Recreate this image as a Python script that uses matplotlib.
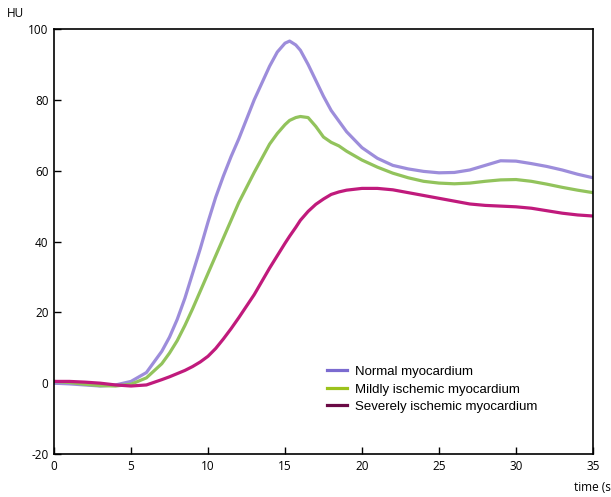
import numpy as np
import matplotlib.pyplot as plt
from matplotlib.lines import Line2D

plt.rcParams['axes.unicode_minus'] = False

# time axis (s) and mean enhancement curves (HU)
t = [0, 1, 2, 3, 4, 5, 6, 7, 7.5, 8, 8.5, 9, 9.5, 10, 10.5, 11, 11.5, 12, 13, 14, 14.5, 15, 15.3, 15.7, 16, 16.5,
     17, 17.5, 18, 18.5, 19, 20, 21, 22, 23, 24, 25, 26, 27, 28, 29, 30, 31, 32, 33, 34, 35]
normal = [0, -0.2, -0.5, -0.8, -0.5, 0.5, 3, 9, 13, 18, 24, 31, 38, 45.5, 52.5, 58.5, 64, 69, 80, 89.5, 93.5, 96,
          96.6, 95.5, 94, 90, 85.5, 81, 77, 74, 71, 66.5, 63.5, 61.5, 60.5, 59.8, 59.4, 59.5, 60.2, 61.5, 62.8,
          62.7, 62, 61.2, 60.2, 59, 58]
mild = [0.5, 0.2, -0.3, -0.7, -0.8, -0.3, 1.5, 5.5, 8.5, 12, 16.3, 21, 26, 31, 36, 41, 46, 51, 59.5, 67.5, 70.5,
        73, 74.2, 75, 75.3, 75, 72.5, 69.5, 68, 67, 65.5, 63, 61, 59.3, 58, 57, 56.5, 56.3, 56.5, 57, 57.4, 57.5,
        57, 56.2, 55.3, 54.5, 53.8]
severe = [0.5, 0.5, 0.3, 0, -0.5, -0.8, -0.5, 1.0, 1.8, 2.7, 3.6, 4.7, 6, 7.6, 9.8, 12.5, 15.4, 18.5, 25, 32.5,
          36, 39.5, 41.5, 44, 46, 48.5, 50.5, 52, 53.3, 54, 54.5, 55, 55, 54.6, 53.8, 53, 52.2, 51.4, 50.6, 50.2,
          50, 49.8, 49.4, 48.7, 48, 47.5, 47.2]

labels = ['Normal myocardium', 'Mildly ischemic myocardium', 'Severely ischemic myocardium']
colors = ['#9d8ddb', '#92c35c', '#c01a7c']
handle_colors = ['#7b6bd0', '#9cc21c', '#6a0a45']

fig = plt.figure(figsize=(6.11, 4.97), dpi=100)
ax = fig.add_axes([0.0884, 0.0865, 0.8821, 0.8551])

for y, c in zip([normal, mild, severe], colors):
    ax.plot(t, y, color=c, lw=2.3, solid_capstyle='round', solid_joinstyle='round')

ax.set_xlim(0, 35)
ax.set_ylim(-20, 100)
ax.set_xticks(range(0, 36, 5))
ax.set_yticks(range(-20, 101, 20))
ax.tick_params(direction='in', length=5, width=1, top=False, right=False, labelsize=8.5, pad=4)
for lab in ax.get_xticklabels() + ax.get_yticklabels():
    lab.set_family('Open Sans')
for s in ax.spines.values():
    s.set_linewidth(1.2)

# legend drawn with darker swatches
handles = [Line2D([], [], color=c, lw=2.3) for c in handle_colors]
ax.legend(handles, labels, loc='upper left', bbox_to_anchor=(0.497, 0.22), frameon=False,
          prop={'family': 'Liberation Sans', 'size': 9.5}, handlelength=1.5, handletextpad=0.6,
          labelspacing=0.4, borderaxespad=0)

fig.text(0.012, 0.972, 'HU', family='Open Sans', fontsize=8.5, va='center')
fig.text(0.94, 0.02, 'time (s)', family='Open Sans', fontsize=8.5, va='center')

fig.savefig('out.png', dpi=100)
